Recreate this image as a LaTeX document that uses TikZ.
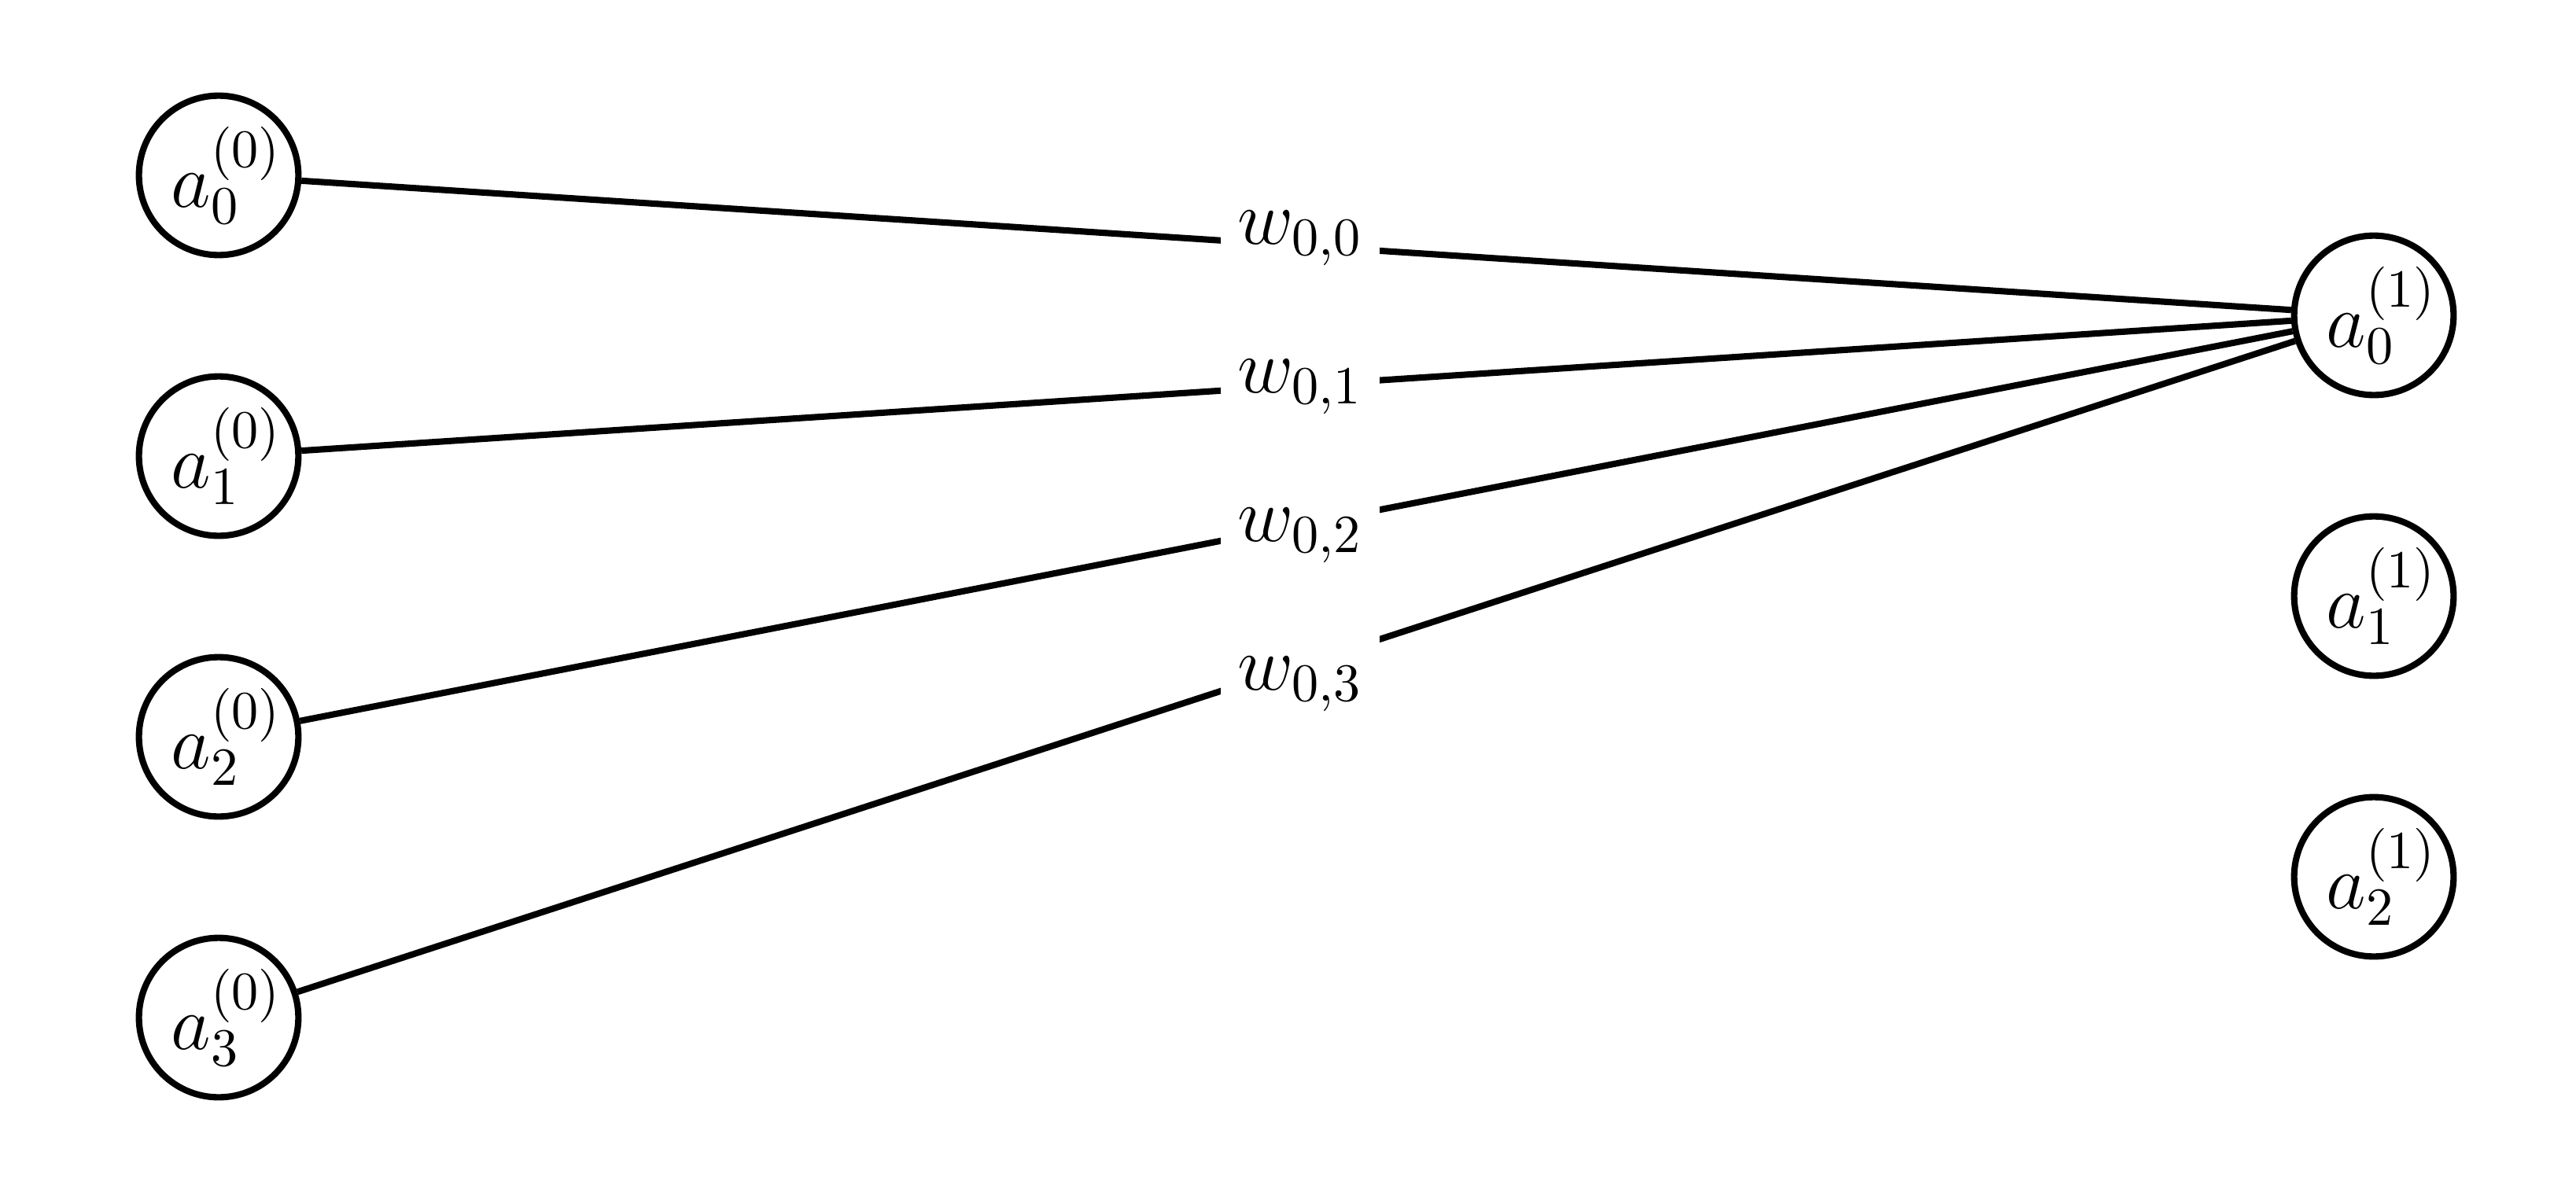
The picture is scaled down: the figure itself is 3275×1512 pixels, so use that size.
\documentclass[tikz,border=0pt]{standalone}
\usepackage{graphicx}
\newcommand{\txtscale}{1.94}
\newcommand{\Lbl}[1]{\scalebox{\txtscale}{\Large$#1$}}
\begin{document}
\begin{tikzpicture}[x=0.01cm,y=-0.01cm,
  neuron/.style={circle, draw, line width=2.3pt, minimum size=2cm, inner sep=0pt},
  conn/.style={line width=2.3pt},
  wlabel/.style={fill=white, minimum width=2.01cm, minimum height=1.6cm, inner sep=0pt, anchor=base}]
\useasboundingbox (0,0) rectangle (3275,1512);
\foreach \i/\yy in {0/223,1/580,2/937,3/1294}
  \node[neuron] (a\i) at (278,\yy) {\Lbl{\kern3pt a_{\i}^{(0)}}};
\foreach \i/\yy in {0/401,1/758,2/1115}
  \node[neuron] (b\i) at (3018,\yy) {\Lbl{\kern3pt a_{\i}^{(1)}}};
\foreach \i in {0,...,3}
  \draw[conn] (a\i) -- (b0);
\foreach \i/\yy in {0/310,1/499,2/688,3/877}
  \node[wlabel] (w\i) at (1653,\yy) {\Lbl{w_{0,\i}}};
\end{tikzpicture}
\end{document}
